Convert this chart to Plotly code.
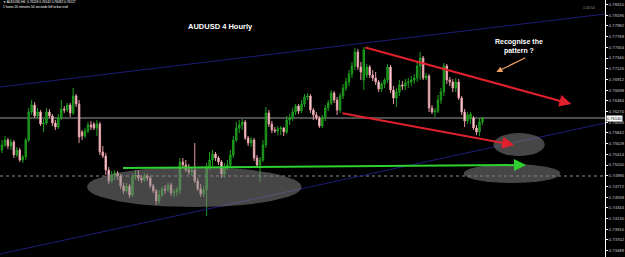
import plotly.graph_objects as go

# ---------------- data (AUDUSD H4) ----------------
bar_index = list(range(163))

open_ = [0.7550,0.7560,0.7570,0.7558,0.7566,0.7540,0.7550,0.7530,0.7536,0.7570,
         0.7626,0.7640,0.7618,0.7626,0.7602,0.7604,0.7626,0.7618,0.7604,0.7596,
         0.7614,0.7632,0.7630,0.7640,0.7624,0.7658,0.7642,0.7586,0.7578,0.7588,
         0.7600,0.7602,0.7594,0.7602,0.7546,0.7538,0.7510,0.7488,0.7500,0.7504,
         0.7498,0.7478,0.7468,0.7478,0.7460,0.7496,0.7500,0.7494,0.7490,0.7498,
         0.7494,0.7478,0.7468,0.7448,0.7460,0.7472,0.7470,0.7480,0.7464,0.7466,
         0.7470,0.7526,0.7520,0.7510,0.7506,0.7510,0.7488,0.7472,0.7462,0.7470,
         0.7516,0.7530,0.7542,0.7534,0.7526,0.7502,0.7516,0.7520,0.7540,0.7570,
         0.7594,0.7600,0.7606,0.7574,0.7564,0.7570,0.7534,0.7520,0.7530,0.7560,
         0.7624,0.7602,0.7590,0.7588,0.7592,0.7594,0.7586,0.7610,0.7614,0.7626,
         0.7638,0.7628,0.7642,0.7656,0.7658,0.7630,0.7620,0.7614,0.7598,0.7614,
         0.7634,0.7644,0.7664,0.7650,0.7630,0.7658,0.7674,0.7686,0.7702,0.7718,
         0.7746,0.7716,0.7690,0.7700,0.7716,0.7700,0.7694,0.7686,0.7672,0.7682,
         0.7690,0.7716,0.7670,0.7654,0.7666,0.7680,0.7678,0.7684,0.7686,0.7690,
         0.7694,0.7718,0.7734,0.7694,0.7698,0.7634,0.7626,0.7628,0.7650,0.7666,
         0.7718,0.7690,0.7686,0.7674,0.7686,0.7654,0.7626,0.7608,0.7612,0.7614,
         0.7594,0.7586,0.7606]
high_ = [0.7570,0.7578,0.7574,0.7572,0.7570,0.7556,0.7554,0.7540,0.7574,0.7634,
         0.7650,0.7646,0.7634,0.7630,0.7612,0.7634,0.7632,0.7622,0.7610,0.7622,
         0.7650,0.7638,0.7644,0.7644,0.7674,0.7662,0.7650,0.7590,0.7594,0.7606,
         0.7608,0.7606,0.7610,0.7606,0.7558,0.7544,0.7516,0.7508,0.7510,0.7508,
         0.7502,0.7484,0.7484,0.7482,0.7502,0.7510,0.7510,0.7500,0.7504,0.7502,
         0.7498,0.7482,0.7472,0.7470,0.7478,0.7480,0.7486,0.7484,0.7472,0.7476,
         0.7534,0.7534,0.7530,0.7522,0.7516,0.7564,0.7494,0.7482,0.7478,0.7524,
         0.7546,0.7550,0.7546,0.7538,0.7530,0.7524,0.7530,0.7550,0.7578,0.7606,
         0.7610,0.7612,0.7610,0.7578,0.7576,0.7574,0.7540,0.7536,0.7570,0.7636,
         0.7630,0.7608,0.7596,0.7598,0.7598,0.7596,0.7618,0.7622,0.7634,0.7642,
         0.7642,0.7650,0.7662,0.7664,0.7662,0.7634,0.7626,0.7618,0.7620,0.7640,
         0.7650,0.7670,0.7668,0.7656,0.7664,0.7682,0.7694,0.7710,0.7726,0.7754,
         0.7752,0.7726,0.7756,0.7722,0.7720,0.7710,0.7706,0.7690,0.7686,0.7694,
         0.7722,0.7720,0.7678,0.7674,0.7690,0.7688,0.7692,0.7694,0.7698,0.7702,
         0.7726,0.7746,0.7738,0.7704,0.7702,0.7640,0.7634,0.7660,0.7674,0.7724,
         0.7722,0.7696,0.7692,0.7694,0.7692,0.7658,0.7632,0.7626,0.7626,0.7618,
         0.7600,0.7614,0.7616]
low_ = [0.7544,0.7556,0.7552,0.7550,0.7534,0.7536,0.7526,0.7524,0.7530,0.7566,
        0.7620,0.7614,0.7612,0.7598,0.7586,0.7600,0.7614,0.7598,0.7590,0.7592,
        0.7610,0.7624,0.7626,0.7616,0.7620,0.7636,0.7564,0.7570,0.7574,0.7584,
        0.7590,0.7590,0.7578,0.7540,0.7534,0.7500,0.7482,0.7484,0.7490,0.7490,
        0.7472,0.7462,0.7464,0.7454,0.7456,0.7490,0.7488,0.7484,0.7486,0.7488,
        0.7474,0.7464,0.7440,0.7442,0.7456,0.7462,0.7466,0.7458,0.7456,0.7458,
        0.7462,0.7514,0.7506,0.7500,0.7498,0.7484,0.7468,0.7456,0.7456,0.7418,
        0.7510,0.7518,0.7528,0.7520,0.7494,0.7494,0.7510,0.7514,0.7534,0.7566,
        0.7584,0.7590,0.7570,0.7558,0.7556,0.7528,0.7516,0.7486,0.7526,0.7554,
        0.7596,0.7584,0.7584,0.7580,0.7580,0.7578,0.7582,0.7600,0.7608,0.7620,
        0.7622,0.7624,0.7636,0.7650,0.7624,0.7610,0.7610,0.7594,0.7594,0.7608,
        0.7628,0.7640,0.7644,0.7620,0.7624,0.7652,0.7668,0.7678,0.7694,0.7710,
        0.7710,0.7690,0.7670,0.7694,0.7694,0.7688,0.7680,0.7666,0.7666,0.7674,
        0.7684,0.7664,0.7642,0.7636,0.7658,0.7670,0.7670,0.7674,0.7678,0.7682,
        0.7686,0.7690,0.7690,0.7690,0.7626,0.7622,0.7616,0.7624,0.7642,0.7658,
        0.7682,0.7678,0.7666,0.7666,0.7650,0.7620,0.7596,0.7602,0.7602,0.7590,
        0.7580,0.7578,0.7600]
close_ = [0.7560,0.7570,0.7558,0.7566,0.7540,0.7550,0.7530,0.7536,0.7570,0.7626,
          0.7640,0.7618,0.7626,0.7602,0.7604,0.7626,0.7618,0.7604,0.7596,0.7614,
          0.7632,0.7630,0.7640,0.7624,0.7658,0.7642,0.7576,0.7578,0.7588,0.7600,
          0.7596,0.7594,0.7602,0.7546,0.7538,0.7510,0.7488,0.7500,0.7504,0.7498,
          0.7478,0.7468,0.7478,0.7460,0.7496,0.7500,0.7494,0.7490,0.7498,0.7494,
          0.7478,0.7468,0.7448,0.7460,0.7472,0.7470,0.7480,0.7464,0.7466,0.7470,
          0.7526,0.7520,0.7510,0.7506,0.7510,0.7488,0.7472,0.7462,0.7470,0.7516,
          0.7530,0.7542,0.7534,0.7526,0.7502,0.7516,0.7520,0.7540,0.7570,0.7594,
          0.7600,0.7606,0.7574,0.7564,0.7570,0.7534,0.7520,0.7530,0.7560,0.7624,
          0.7602,0.7590,0.7588,0.7592,0.7594,0.7586,0.7610,0.7614,0.7626,0.7638,
          0.7628,0.7642,0.7656,0.7658,0.7630,0.7620,0.7614,0.7598,0.7614,0.7634,
          0.7644,0.7664,0.7650,0.7630,0.7658,0.7674,0.7686,0.7702,0.7718,0.7746,
          0.7716,0.7706,0.7750,0.7716,0.7700,0.7694,0.7686,0.7672,0.7682,0.7690,
          0.7716,0.7670,0.7654,0.7666,0.7680,0.7678,0.7684,0.7686,0.7690,0.7694,
          0.7718,0.7734,0.7694,0.7698,0.7634,0.7626,0.7628,0.7650,0.7666,0.7718,
          0.7690,0.7686,0.7674,0.7686,0.7654,0.7626,0.7608,0.7620,0.7622,0.7594,
          0.7586,0.7606,0.7614]

current_price = 0.7614
dotted_level = 0.7498

# channel lines  [x0, x1], [p0, p1]
upper_channel_x = [-0.67, 203.33]
upper_channel_p = [0.7676, 0.7822]
lower_channel_x = [-0.67, 203.33]
lower_channel_p = [0.7342, 0.7604]

# arrows: (tail_x, tail_p, head_x, head_p)
green_arrow = (40.3, 0.7514, 176.7, 0.7520)
red_arrow_top = (122.0, 0.7756, 192.0, 0.7642)
red_arrow_low = (114.3, 0.7624, 172.7, 0.7560)
orange_arrow = (177.0, 0.7736, 166.7, 0.7706)

# ellipses: (x0, x1, p_low, p_high)
ellipses = [(28.7, 101.0, 0.7436, 0.7516),
            (165.7, 183.0, 0.7538, 0.7584),
            (155.7, 188.3, 0.7484, 0.7522)]

title_text = "AUDUSD 4 Hourly"
note_text = "Recognise the<br>pattern ?"
info_line1 = "\u25bc AUDUSD,H4  0.76118 0.76142 0.76082 0.76127"
info_line2 = "1 hours 20 minutes 54 seconds left to bar end"
timer_text = "1:20:54"

# ---------------- figure ----------------
fig = go.Figure()

fig.add_trace(go.Candlestick(
    x=bar_index, open=open_, high=high_, low=low_, close=close_,
    increasing=dict(line=dict(color="#1f9e1f", width=1), fillcolor="#137a13"),
    decreasing=dict(line=dict(color="#e69aa2", width=1), fillcolor="#ffffff"),
    whiskerwidth=0, showlegend=False, hoverinfo="skip"))

# channel lines
fig.add_trace(go.Scatter(x=upper_channel_x, y=upper_channel_p, mode="lines",
                         line=dict(color="#1c1c7a", width=1), showlegend=False, hoverinfo="skip"))
fig.add_trace(go.Scatter(x=lower_channel_x, y=lower_channel_p, mode="lines",
                         line=dict(color="#1c1c7a", width=1), showlegend=False, hoverinfo="skip"))

shapes = []
shapes.append(dict(type="line", xref="paper", x0=0, x1=1, yref="y",
                   y0=current_price, y1=current_price,
                   line=dict(color="#9a9a9a", width=1), layer="below"))
shapes.append(dict(type="line", xref="paper", x0=0, x1=1, yref="y",
                   y0=dotted_level, y1=dotted_level,
                   line=dict(color="#8a8a8a", width=1, dash="dot"), layer="below"))
for (ex0, ex1, ep0, ep1) in ellipses:
    shapes.append(dict(type="circle", xref="x", yref="y", x0=ex0, x1=ex1, y0=ep0, y1=ep1,
                       fillcolor="rgba(128,128,128,0.55)", line=dict(width=0), layer="above"))

annotations = []
for (tx, tp, hx, hp), col in [(green_arrow, "#2fd02f"), (red_arrow_top, "#e0202c"),
                              (red_arrow_low, "#e0202c"), (orange_arrow, "#f0a060")]:
    annotations.append(dict(x=hx, y=hp, ax=tx, ay=tp, xref="x", yref="y",
                            axref="x", ayref="y", text="", showarrow=True,
                            arrowhead=2, arrowsize=1.2 if col != "#f0a060" else 1.0,
                            arrowwidth=2 if col != "#f0a060" else 1.2,
                            arrowcolor=col, standoff=0, startstandoff=0))

annotations.append(dict(x=188 / 612, y=1 - 27 / 257, xref="paper", yref="paper",
                        text="<b>" + title_text + "</b>", showarrow=False,
                        xanchor="left", yanchor="middle",
                        font=dict(family="Liberation Sans", size=7.5, color="white")))
annotations.append(dict(x=525 / 612, y=1 - 46.5 / 257, xref="paper", yref="paper",
                        text="<b>" + note_text + "</b>", showarrow=False,
                        xanchor="center", yanchor="middle", align="center",
                        font=dict(family="Liberation Sans", size=7, color="white")))
annotations.append(dict(x=1 / 612, y=1 - 2.5 / 257, xref="paper", yref="paper",
                        text=info_line1, showarrow=False, xanchor="left", yanchor="middle",
                        font=dict(family="Liberation Sans", size=3.2, color="white")))
annotations.append(dict(x=1 / 612, y=1 - 7 / 257, xref="paper", yref="paper",
                        text=info_line2, showarrow=False, xanchor="left", yanchor="middle",
                        font=dict(family="Liberation Sans", size=3.2, color="white")))
annotations.append(dict(x=604 / 612, y=1 - 8 / 257, xref="paper", yref="paper",
                        text=timer_text, showarrow=False, xanchor="right", yanchor="middle",
                        font=dict(family="Liberation Sans", size=3.5, color="#9a9a9a")))
annotations.append(dict(x=1, y=current_price, xref="paper", yref="y",
                        text=f"{current_price:.5f}", showarrow=False, xanchor="left",
                        yanchor="middle", xshift=1, bgcolor="white", borderpad=0,
                        font=dict(family="Liberation Sans", size=4, color="black")))

fig.update_layout(
    width=625, height=257,
    margin=dict(l=0, r=13, t=0, b=0),
    paper_bgcolor="black", plot_bgcolor="black",
    shapes=shapes, annotations=annotations,
    xaxis=dict(range=[-0.67, 203.33], visible=False, rangeslider=dict(visible=False),
               fixedrange=True),
    yaxis=dict(range=[0.7336, 0.7850], side="right", showgrid=False, zeroline=False,
               showline=True, linecolor="white", linewidth=1,
               tick0=0.78410, dtick=0.00214, tickformat=".5f",
               ticks="outside", ticklen=2, tickcolor="white",
               tickfont=dict(family="Liberation Sans", size=4.2, color="#c8c8c8")),
    hovermode=False,
)

fig.write_html("out.html")
